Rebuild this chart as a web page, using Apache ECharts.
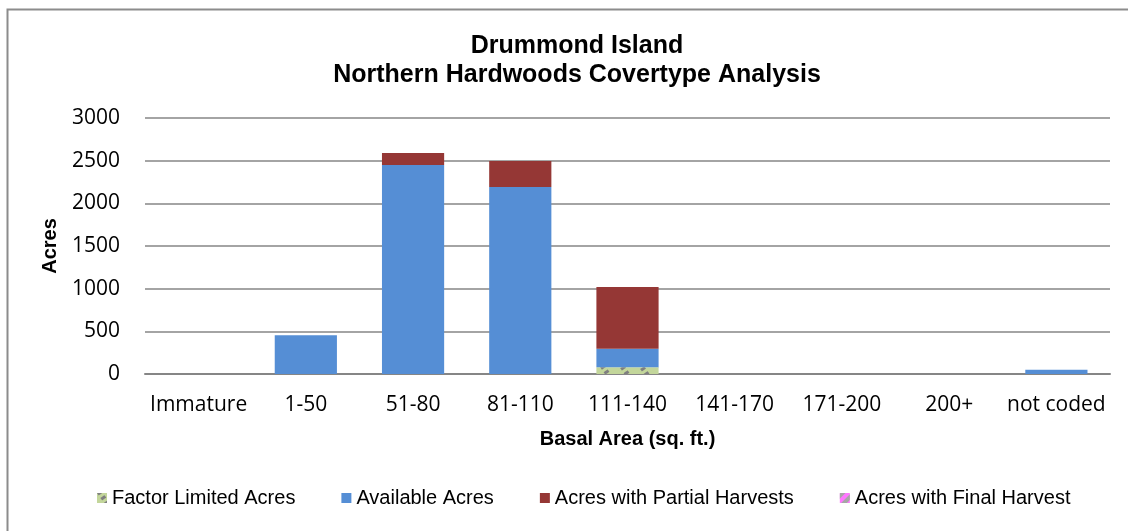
<!DOCTYPE html>
<html>
<head>
<meta charset="utf-8">
<script src="https://cdn.jsdelivr.net/npm/echarts@6/dist/echarts.min.js"></script>
<style>
  html, body { margin: 0; padding: 0; background: #fff; }
  #chart { width: 1128px; height: 531px; }
</style>
</head>
<body>
<div id="chart"></div>
<script>
  // 分类与数据
  var categories = ['Immature', '1-50', '51-80', '81-110', '111-140', '141-170', '171-200', '200+', 'not coded'];
  var factorLimited = [0, 0, 0, 0, 80, 0, 0, 0, 0];
  var available = [0, 455, 2450, 2190, 215, 0, 0, 0, 50];
  var partialHarvest = [0, 0, 140, 305, 725, 0, 0, 0, 0];
  var finalHarvest = [0, 0, 0, 0, 0, 0, 0, 0, 0];
  var yTicks = [0, 500, 1000, 1500, 2000, 2500, 3000];

  var labelFont = '"Open Sans", "Noto Sans", sans-serif';
  var arial = '"Liberation Sans", Arial, sans-serif';

  var chart = echarts.init(document.getElementById('chart'));
  var option = {
    animation: false,
    backgroundColor: '#fff',
    // 外框
    graphic: [{
      type: 'rect',
      shape: { x: 7.5, y: 9.5, width: 1200, height: 600 },
      style: { fill: 'none', stroke: '#8c8c8c', lineWidth: 2 }
    }],
    title: {
      text: 'Drummond Island\nNorthern Hardwoods Covertype Analysis',
      left: 572,
      textAlign: 'center',
      top: 27,
      textStyle: { fontFamily: arial, fontSize: 25, fontWeight: 'bold', color: '#000', lineHeight: 29 }
    },
    legend: {
      top: 483,
      left: 92,
      itemWidth: 10,
      itemHeight: 10,
      itemGap: 46,
      icon: 'rect',
      textStyle: { fontFamily: arial, fontSize: 20, color: '#000' },
      data: ['Factor Limited Acres', 'Available Acres', 'Acres with Partial Harvests', 'Acres with Final Harvest']
    },
    grid: { left: 145, right: 18, top: 118, bottom: 157 },
    xAxis: {
      type: 'category',
      data: categories,
      name: 'Basal Area (sq. ft.)',
      nameLocation: 'middle',
      nameGap: 55,
      nameTextStyle: { fontFamily: arial, fontSize: 20, fontWeight: 'bold', color: '#000' },
      axisLine: { lineStyle: { color: '#868686', width: 2 } },
      axisTick: { show: false },
      axisLabel: { interval: 0, fontFamily: labelFont, fontSize: 21, color: '#000', margin: 21 }
    },
    yAxis: {
      type: 'value',
      min: yTicks[0],
      max: yTicks[yTicks.length - 1],
      interval: yTicks[1] - yTicks[0],
      name: 'Acres',
      nameLocation: 'middle',
      nameGap: 85,
      nameTextStyle: { fontFamily: arial, fontSize: 20, fontWeight: 'bold', color: '#000' },
      axisLine: { show: false },
      axisTick: { show: false },
      axisLabel: { fontFamily: labelFont, fontSize: 21, color: '#000', margin: 25, formatter: function (v) { return String(v); } },
      splitLine: { lineStyle: { color: '#868686', width: 1.5 } }
    },
    series: [
      {
        name: 'Factor Limited Acres',
        type: 'bar',
        stack: 'acres',
        barWidth: '58%',
        data: factorLimited,
        itemStyle: {
          color: '#c3d69b',
          decal: {
            symbol: 'rect',
            symbolSize: 1,
            color: '#7f7f7f',
            dashArrayX: [[5, 11]],
            dashArrayY: [3, 3],
            rotation: -0.6
          }
        }
      },
      {
        name: 'Available Acres',
        type: 'bar',
        stack: 'acres',
        data: available,
        itemStyle: { color: '#558ed5' }
      },
      {
        name: 'Acres with Partial Harvests',
        type: 'bar',
        stack: 'acres',
        data: partialHarvest,
        itemStyle: { color: '#953735' }
      },
      {
        name: 'Acres with Final Harvest',
        type: 'bar',
        stack: 'acres',
        data: finalHarvest,
        itemStyle: {
          color: '#ff77ff',
          decal: { symbol: 'rect', symbolSize: 1, color: '#a6a6a6', dashArrayX: [[4, 4]], dashArrayY: [4, 0], rotation: 0.785 }
        }
      }
    ]
  };
  chart.setOption(option);
</script>
</body>
</html>
